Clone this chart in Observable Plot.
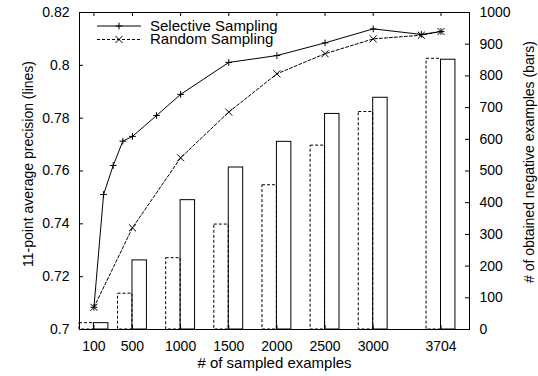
<!DOCTYPE html>
<html><head><meta charset="utf-8">
<script src="https://cdn.jsdelivr.net/npm/d3@7"></script>
<script src="https://cdn.jsdelivr.net/npm/@observablehq/plot@0.6"></script>
<style>html,body{margin:0;padding:0;background:#fff;} svg{display:block;}</style>
</head><body><div id="chart"></div>
<script>
// ---- data ----
const xTicks = [100, 500, 1000, 1500, 2000, 2500, 3000, 3704];
const selectiveX  = [100, 200, 300, 400, 500, 750, 1000, 1500, 2000, 2500, 3000, 3500, 3704];
const selectiveAP = [0.7084, 0.7511, 0.7621, 0.7713, 0.7731, 0.7810, 0.7890, 0.8011, 0.8037, 0.8085, 0.8138, 0.8117, 0.8128];
const randomX  = [100, 500, 1000, 1500, 2000, 2500, 3000, 3500, 3704];
const randomAP = [0.7084, 0.7385, 0.7650, 0.7823, 0.7968, 0.8044, 0.8100, 0.8114, 0.8128];
const barX = [100, 500, 1000, 1500, 2000, 2500, 3000, 3704];
const selectiveNeg = [20, 218, 408, 511, 592, 680, 731, 851];
const randomNeg    = [20, 113, 225, 331, 455, 580, 686, 854];
const leftTicks  = [0.7, 0.72, 0.74, 0.76, 0.78, 0.8, 0.82];
const rightTicks = [0, 100, 200, 300, 400, 500, 600, 700, 800, 900, 1000];
const seriesNames = ["Selective Sampling", "Random Sampling"];
const xLabel = "# of sampled examples";
const yLabel = "11-point average precision (lines)";
const y2Label = "# of obtained negative examples (bars)";

// ---- layout ----
const W = 538, H = 376;
const mL = 79, mR = 69, mT = 12, mB = 47;
const fw = W - mL - mR, fh = H - mT - mB;
const tick = 4;
const font = "'Liberation Sans', Arial, Helvetica, sans-serif";

// map right-axis (bars) values onto the left (precision) scale
const apMin = 0.7, apMax = 0.82, negMax = 1000;
const toAP = v => apMin + v / negMax * (apMax - apMin);
const fromAP = y => Math.round((y - apMin) / (apMax - apMin) * negMax);

const selLine = selectiveX.map((x, i) => ({x, y: selectiveAP[i]}));
const rndLine = randomX.map((x, i) => ({x, y: randomAP[i]}));
const barW = 150;
const rndBars = barX.map((x, i) => ({x1: x - barW, x2: x, v: randomNeg[i]}));
const selBars = barX.map((x, i) => ({x1: x, x2: x + barW, v: selectiveNeg[i]}));

const dash = "3,2";

const legend = (index, scales, values, dims) => {
  const g = d3.create("svg:g").attr("font-family", font).attr("font-size", 15);
  const items = [
    {label: seriesNames[0], dash: null, sym: d3.symbolPlus, r: 2.3},
    {label: seriesNames[1], dash: dash, sym: d3.symbolTimes, r: 3.3}
  ];
  items.forEach((it, i) => {
    const y = dims.marginTop + 14 + i * 13.5;
    const x0 = dims.marginLeft + 18, x1 = dims.marginLeft + 62, xm = dims.marginLeft + 40;
    g.append("line").attr("x1", x0).attr("x2", x1).attr("y1", y).attr("y2", y)
      .attr("stroke", "black").attr("stroke-dasharray", it.dash);
    g.append("path").attr("transform", `translate(${xm},${y})`)
      .attr("d", d3.symbol(it.sym, Math.PI * it.r * it.r)())
      .attr("fill", "none").attr("stroke", "black");
    g.append("text").attr("x", dims.marginLeft + 71).attr("y", y).attr("dy", "0.32em")
      .attr("text-anchor", "start").attr("fill", "black").text(it.label);
  });
  return g.node();
};

const chart = Plot.plot({
  width: W, height: H,
  marginLeft: mL, marginRight: mR, marginTop: mT, marginBottom: mB,
  style: {fontFamily: font, fontSize: "14px", background: "white", color: "black"},
  x: {domain: [-50, 4000]},
  y: {domain: [apMin, apMax]},
  marks: [
    // bars (right axis)
    Plot.rect(rndBars, {x1: "x1", x2: "x2", y1: apMin, y2: d => toAP(d.v), fill: "none", stroke: "black", strokeWidth: 1, strokeDasharray: dash}),
    Plot.rect(selBars, {x1: "x1", x2: "x2", y1: apMin, y2: d => toAP(d.v), fill: "none", stroke: "black", strokeWidth: 1}),
    // lines (left axis)
    Plot.line(rndLine, {x: "x", y: "y", stroke: "black", strokeWidth: 1, strokeDasharray: dash}),
    Plot.dot(rndLine, {x: "x", y: "y", symbol: "times", r: 3.3, stroke: "black", strokeWidth: 1}),
    Plot.line(selLine, {x: "x", y: "y", stroke: "black", strokeWidth: 1}),
    Plot.dot(selLine, {x: "x", y: "y", symbol: "plus", r: 2.3, stroke: "black", strokeWidth: 1}),
    // inward ticks
    Plot.ruleX(xTicks, {x: d => d, insetTop: fh - tick, stroke: "black"}),
    Plot.ruleX(xTicks, {x: d => d, insetBottom: fh - tick, stroke: "black"}),
    Plot.ruleY(leftTicks, {y: d => d, insetRight: fw - tick, stroke: "black"}),
    Plot.ruleY(rightTicks.map(toAP), {y: d => d, insetLeft: fw - tick, stroke: "black"}),
    // axes labels
    Plot.axisX(xTicks, {tickSize: 0, tickPadding: 12, tickFormat: d => String(d), label: null, fontSize: 14}),
    Plot.axisY(leftTicks, {anchor: "left", tickSize: 0, tickPadding: 10, tickFormat: d => String(d), label: null, fontSize: 14}),
    Plot.axisY(rightTicks.map(toAP), {anchor: "right", tickSize: 0, tickPadding: 10, tickFormat: d => String(fromAP(d)), label: null, fontSize: 14}),
    Plot.frame({stroke: "black", strokeWidth: 1}),
    // titles
    Plot.text([xLabel], {text: d => d, frameAnchor: "bottom", textAnchor: "middle", dy: 38.5, fontSize: 15, fill: "black"}),
    Plot.text([yLabel], {text: d => d, frameAnchor: "left", textAnchor: "middle", dx: -50.5, dy: -7, rotate: -90, fontSize: 14, fill: "black"}),
    Plot.text([y2Label], {text: d => d, frameAnchor: "right", textAnchor: "middle", dx: 60.5, dy: -9, rotate: -90, fontSize: 14, fill: "black"}),
    legend
  ]
});
document.getElementById("chart").appendChild(chart);
</script>
</body></html>
